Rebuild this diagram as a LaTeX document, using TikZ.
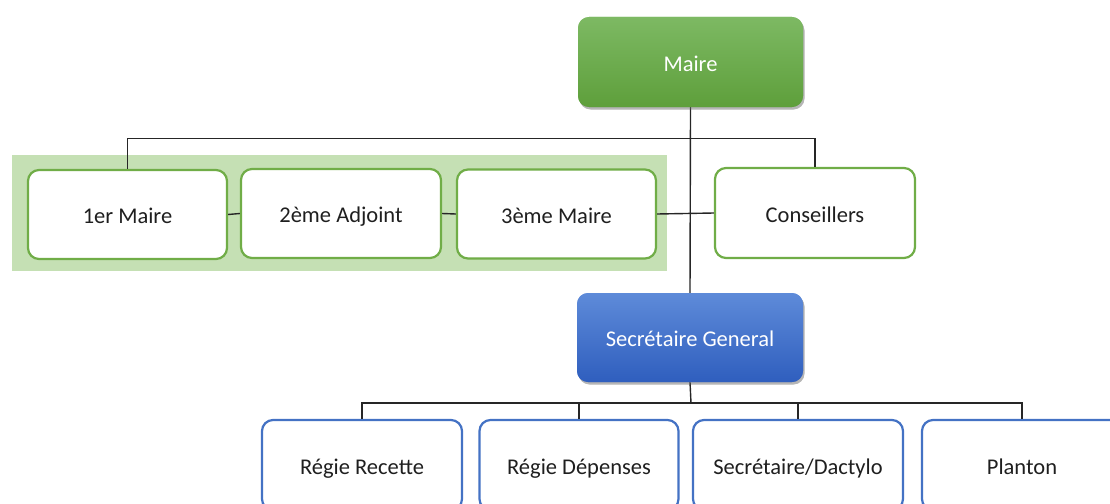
\documentclass[tikz,border=0pt]{standalone}
\usepackage{fontspec}
\setmainfont{Carlito}
\usetikzlibrary{shadows}
\definecolor{leafgreen}{HTML}{70AD47}
\definecolor{bandgreen}{HTML}{C5E0B4}
\definecolor{boxblue}{HTML}{4472C4}
\definecolor{linegray}{HTML}{262626}
\definecolor{greentop}{HTML}{7DB963}
\definecolor{greenbot}{HTML}{5E9F3B}
\definecolor{bluetop}{HTML}{5E8BD9}
\definecolor{bluebot}{HTML}{2F5EBE}
\begin{document}
\begin{tikzpicture}[x=1pt,y=1pt,
  every node/.style={font=\fontsize{22.5}{26}\selectfont, text=black!88,
    text height=20pt, text depth=2pt},
  headbox/.style={rounded corners=11pt, minimum width=225pt, minimum height=90pt,
    text=white, draw=none,
    drop shadow={opacity=0.35, shadow xshift=1.5pt, shadow yshift=-2.5pt}},
  greenhead/.style={headbox, top color=greentop, bottom color=greenbot},
  bluehead/.style={headbox, top color=bluetop, bottom color=bluebot},
  greenbox/.style={rounded corners=11pt, minimum width=199pt, minimum height=89pt,
    draw=leafgreen, line width=2.2pt, fill=white},
  bluebox/.style={rounded corners=11pt, minimum width=200pt, minimum height=90pt,
    draw=boxblue, line width=2.2pt, fill=white},
  link/.style={draw=linegray, line width=1.4pt}
]
\useasboundingbox (0,0) rectangle (1110,-503);
\clip (0,0) rectangle (1110,-503);

% background band behind the deputies
\fill[bandgreen] (12,-155) rectangle (667,-271);

% bus junctions
\coordinate (bus1) at (691,-138.5);
\coordinate (bus2) at (691,-403);

% top level
\node[greenhead] (maire) at (690.5,-62) {Maire};

% deputies and councillors
\node[greenbox] (m1) at (127.5,-214.5) {1er Maire};
\node[greenbox, minimum width=200pt] (m2) at (341,-213.5) {2ème Adjoint};
\node[greenbox] (m3) at (556.5,-214) {3ème Maire};
\node[greenbox, minimum width=200pt, minimum height=90pt] (cons) at (815,-213) {Conseillers};

% general secretary
\node[bluehead, minimum width=226pt, minimum height=89pt] (sg) at (690,-337.5) {Secrétaire General};

% services
\node[bluebox] (r1) at (362,-465) {Régie Recette};
\node[bluebox, minimum width=199pt] (r2) at (579,-465) {Régie Dépenses};
\node[bluebox, minimum width=210pt] (r3) at (798,-465) {Secrétaire/Dactylo};
\node[bluebox] (r4) at (1022,-465) {Planton};

% connectors
\draw[link] (maire.south) -- (sg.north);
\draw[link] (bus1) -| (m1.north);
\draw[link] (bus1) -| (cons.north);
\draw[link] (m1.east) -- (m2.west);
\draw[link] (m2.east) -- (m3.west);
\draw[link] (m3.east) -- (cons.west);
\draw[link] (sg.south) -- (bus2);
\draw[link] (bus2) -| (r1.north);
\draw[link] (bus2) -| (r2.north);
\draw[link] (bus2) -| (r3.north);
\draw[link] (bus2) -| (r4.north);

% head boxes drawn again over the trunk line
\node[greenhead] at (maire) {Maire};
\node[bluehead, minimum width=226pt, minimum height=89pt] at (sg) {Secrétaire General};
\end{tikzpicture}
\end{document}
